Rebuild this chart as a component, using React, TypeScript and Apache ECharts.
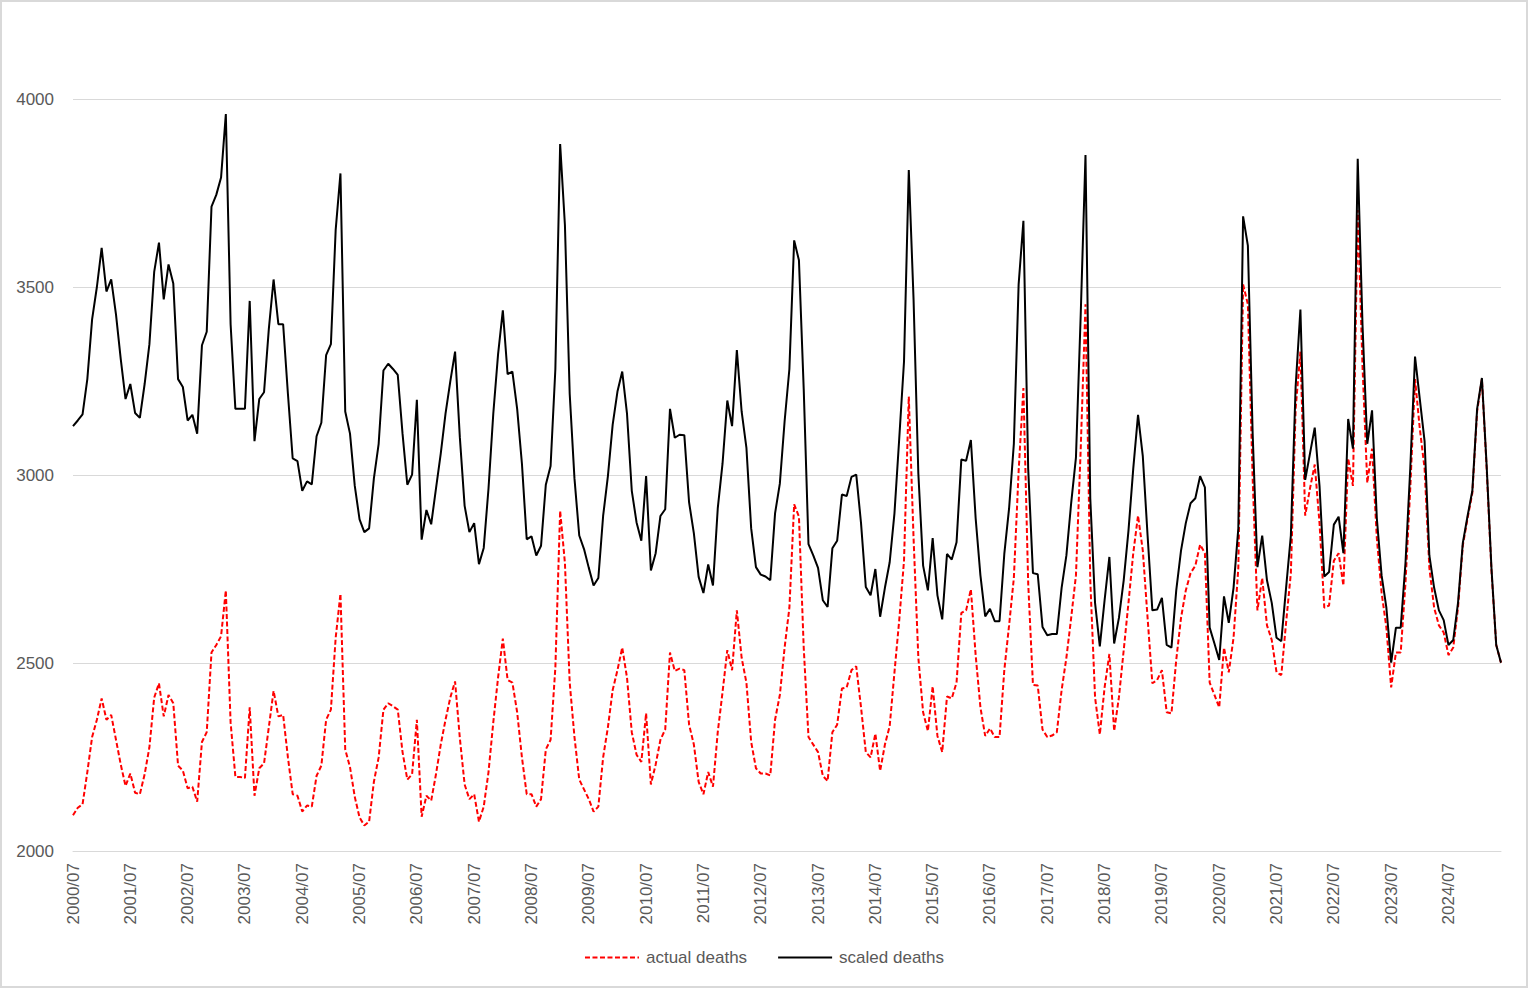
import { useRef, useEffect } from 'react'
import * as echarts from 'echarts'

// monthly values, July 2000 .. June 2025
const actual2000 = [
  2095, 2115, 2124, 2210, 2303, 2349, 2406, 2349, 2362, 2296, 2230, 2173,
  2206, 2155, 2151, 2204, 2276, 2408, 2446, 2358, 2415, 2393, 2227, 2214,
  2167, 2171, 2131, 2290, 2316, 2528, 2548, 2571, 2693, 2342, 2197, 2197,
  2194, 2382, 2147, 2220, 2233, 2329, 2426, 2358, 2362, 2249, 2151, 2147,
  2105, 2121, 2118, 2200, 2227, 2349, 2376, 2567, 2684, 2270, 2223, 2144
]
const actual2005 = [
  2089, 2068, 2078, 2184, 2249, 2376, 2393, 2385, 2376, 2263, 2190, 2204,
  2349, 2091, 2147, 2134, 2204, 2283, 2349, 2408, 2451, 2300, 2177, 2138,
  2151, 2078, 2118, 2210, 2342, 2461, 2565, 2455, 2448, 2369, 2249, 2151,
  2151, 2118, 2138, 2270, 2296, 2488, 2905, 2766, 2448, 2303, 2190, 2164,
  2138, 2105, 2118, 2249, 2329, 2428, 2481, 2541, 2461, 2316, 2256, 2237
]
const actual2010 = [
  2366, 2177, 2230, 2296, 2323, 2528, 2479, 2485, 2481, 2336, 2283, 2184,
  2151, 2210, 2171, 2316, 2422, 2534, 2481, 2640, 2514, 2448, 2290, 2220,
  2206, 2206, 2201, 2349, 2415, 2541, 2647, 2922, 2889, 2541, 2303, 2283,
  2263, 2200, 2186, 2316, 2336, 2432, 2435, 2481, 2491, 2382, 2263, 2249,
  2312, 2213, 2283, 2332, 2475, 2614, 2772, 3209, 2832, 2514, 2369, 2319
]
const actual2015 = [
  2438, 2306, 2263, 2411, 2406, 2448, 2633, 2640, 2696, 2521, 2382, 2306,
  2326, 2303, 2303, 2481, 2600, 2726, 3010, 3231, 2713, 2442, 2440, 2323,
  2303, 2307, 2316, 2428, 2514, 2620, 2733, 3070, 3454, 2720, 2409, 2310,
  2435, 2524, 2319, 2409, 2534, 2660, 2792, 2892, 2799, 2620, 2446, 2455,
  2481, 2369, 2366, 2508, 2620, 2693, 2739, 2759, 2815, 2792, 2448, 2415
]
const actual2020 = [
  2382, 2541, 2475, 2567, 2753, 3507, 3454, 2991, 2640, 2726, 2600, 2561,
  2475, 2468, 2607, 2739, 3176, 3328, 2892, 2964, 3028, 2872, 2647, 2653,
  2772, 2792, 2706, 3044, 2971, 3705, 3290, 2979, 3070, 2832, 2687, 2594,
  2435, 2528, 2528, 2713, 2964, 3255, 3123, 3017, 2753, 2647, 2600, 2581,
  2521, 2541, 2647, 2812, 2885, 2952, 3169, 3255, 3017, 2746, 2548, 2501
]

const scaled2000 = [
  3130, 3145, 3161, 3255, 3414, 3500, 3604, 3488, 3520, 3427, 3308, 3202,
  3242, 3165, 3152, 3242, 3348, 3540, 3618, 3467, 3560, 3509, 3255, 3234,
  3145, 3160, 3110, 3345, 3381, 3714, 3745, 3791, 3960, 3401, 3176, 3176,
  3176, 3463, 3090, 3202, 3220, 3388, 3520, 3401, 3401, 3216, 3044, 3037,
  2958, 2983, 2975, 3103, 3139, 3319, 3348, 3652, 3802, 3169, 3110, 2971
]
const scaled2005 = [
  2882, 2848, 2858, 2991, 3083, 3278, 3296, 3282, 3266, 3110, 2974, 3001,
  3200, 2828, 2907, 2869, 2964, 3057, 3163, 3249, 3328, 3100, 2918, 2848,
  2872, 2763, 2806, 2964, 3163, 3321, 3438, 3268, 3275, 3176, 3030, 2829,
  2837, 2786, 2812, 2974, 3024, 3282, 3880, 3665, 3216, 2991, 2839, 2803,
  2753, 2706, 2726, 2891, 2997, 3134, 3222, 3275, 3163, 2958, 2874, 2825
]
const scaled2010 = [
  2997, 2746, 2792, 2891, 2909, 3176, 3099, 3107, 3106, 2927, 2845, 2729,
  2686, 2762, 2706, 2911, 3030, 3198, 3130, 3332, 3169, 3073, 2858, 2755,
  2735, 2730, 2720, 2898, 2977, 3143, 3282, 3624, 3571, 3229, 2816, 2786,
  2753, 2667, 2649, 2805, 2825, 2948, 2944, 2995, 3001, 2872, 2702, 2680,
  2750, 2623, 2700, 2768, 2898, 3097, 3302, 3811, 3467, 3004, 2759, 2693
]
const scaled2015 = [
  2832, 2680, 2616, 2790, 2775, 2821, 3041, 3038, 3093, 2885, 2733, 2624,
  2644, 2611, 2611, 2790, 2911, 3083, 3507, 3676, 3017, 2739, 2736, 2596,
  2574, 2577, 2577, 2700, 2786, 2925, 3046, 3427, 3851, 2938, 2660, 2544,
  2667, 2782, 2552, 2620, 2720, 2852, 3017, 3160, 3050, 2839, 2640, 2642,
  2673, 2548, 2541, 2693, 2799, 2872, 2925, 2938, 2997, 2967, 2594, 2552
]
const scaled2020 = [
  2508, 2677, 2607, 2700, 2858, 3688, 3610, 3110, 2755, 2839, 2720, 2660,
  2567, 2558, 2700, 2839, 3235, 3440, 2987, 3057, 3126, 2971, 2730, 2742,
  2868, 2889, 2792, 3149, 3070, 3841, 3400, 3083, 3172, 2885, 2733, 2647,
  2501, 2594, 2594, 2766, 3017, 3315, 3202, 3090, 2786, 2700, 2640, 2614,
  2548, 2561, 2660, 2819, 2891, 2958, 3176, 3258, 3024, 2753, 2548, 2501
]

const seriesNames = ['actual deaths', 'scaled deaths']
const yTicks = [2000, 2500, 3000, 3500, 4000]

const actual = [...actual2000, ...actual2005, ...actual2010, ...actual2015, ...actual2020]
const scaled = [...scaled2000, ...scaled2005, ...scaled2010, ...scaled2015, ...scaled2020]

// month labels "YYYY/MM" starting 2000/07
const months: string[] = []
for (let k = 0; k < actual.length; k++) {
  const m = 6 + k
  const y = 2000 + Math.floor(m / 12)
  const mm = (m % 12) + 1
  months.push(`${y}/${mm < 10 ? '0' + mm : mm}`)
}

const FONT = '"Liberation Sans", Arial, sans-serif'
const GREY = '#595959'

export default function App() {
  const containerRef = useRef<HTMLDivElement>(null)

  useEffect(() => {
    const el = containerRef.current
    if (!el) return
    const chart = echarts.init(el, null, { renderer: 'svg' })

    const option: echarts.EChartsOption = {
      animation: false,
      backgroundColor: '#ffffff',
      textStyle: { fontFamily: FONT },
      graphic: [{
        type: 'rect',
        shape: { x: 1, y: 1, width: 1526, height: 986 },
        style: { fill: 'none', stroke: '#d9d9d9', lineWidth: 2 },
        silent: true
      }],
      grid: { left: 73, right: 27, top: 99, bottom: 137 },
      legend: {
        data: seriesNames,
        top: 944,
        left: 'center',
        itemWidth: 54,
        itemHeight: 14,
        itemGap: 30,
        itemStyle: { opacity: 0 },
        textStyle: { color: GREY, fontSize: 17, fontFamily: FONT, padding: [0, 0, 0, 2] }
      },
      xAxis: {
        type: 'category',
        data: months,
        boundaryGap: false,
        axisLine: { lineStyle: { color: '#d9d9d9', width: 1 } },
        axisTick: { show: false },
        axisLabel: {
          interval: 11,
          rotate: 90,
          margin: 12,
          color: GREY,
          fontSize: 17,
          fontFamily: FONT
        },
        splitLine: { show: false }
      },
      yAxis: {
        type: 'value',
        min: yTicks[0],
        max: yTicks[yTicks.length - 1],
        interval: 500,
        axisLine: { show: false },
        axisTick: { show: false },
        axisLabel: {
          color: GREY,
          fontSize: 17,
          margin: 19,
          fontFamily: FONT,
          formatter: (v: number) => String(v)
        },
        splitLine: { lineStyle: { color: '#d9d9d9', width: 1 } }
      },
      series: [
        {
          name: seriesNames[0],
          type: 'line',
          data: actual,
          symbol: 'none',
          lineStyle: { color: '#ff0000', width: 2, type: [5, 2.5] },
          itemStyle: { color: '#ff0000' }
        },
        {
          name: seriesNames[1],
          type: 'line',
          data: scaled,
          symbol: 'none',
          lineStyle: { color: '#000000', width: 2 },
          itemStyle: { color: '#000000' }
        }
      ]
    }
    chart.setOption(option)

    return () => {
      chart.dispose()
    }
  }, [])

  return (
    <div
      ref={containerRef}
      style={{ position: 'absolute', left: 0, top: 0, width: 1528, height: 988 }}
    />
  )
}
